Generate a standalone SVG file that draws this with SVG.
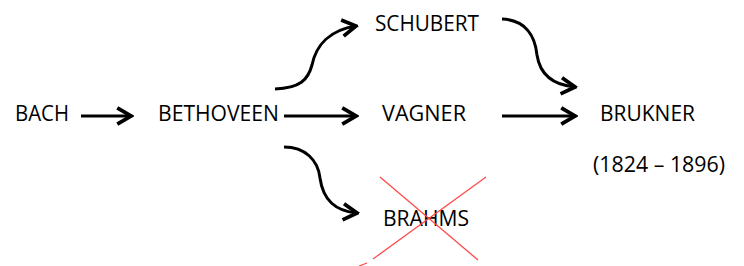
<svg xmlns="http://www.w3.org/2000/svg" width="744" height="266" viewBox="0 0 744 266">
<defs>
<style>
.t{font-family:"Open Sans","Noto Sans",sans-serif;font-size:21px;fill:#000}
.c{fill:none;stroke:#000;stroke-width:3}
.x{stroke:#ff4a4a;stroke-width:1.3;fill:none}
</style>
<marker id="ah" markerUnits="userSpaceOnUse" markerWidth="20" markerHeight="20" viewBox="-14 -8 16 16" refX="0" refY="0" orient="auto">
<path d="M-11,-6.5 L0,0 L-11,6.5" fill="none" stroke="#000" stroke-width="3" stroke-linejoin="miter"/>
</marker>
</defs>
<rect width="744" height="266" fill="#fff"/>
<g id="bach"><text class="t" x="15" y="121" textLength="54" lengthAdjust="spacingAndGlyphs">BACH</text></g>
<g id="bethoveen"><text class="t" x="158" y="121" textLength="121" lengthAdjust="spacingAndGlyphs">BETHOVEEN</text></g>
<g id="schubert"><text class="t" x="375" y="31" textLength="104" lengthAdjust="spacingAndGlyphs">SCHUBERT</text></g>
<g id="vagner"><text class="t" x="382" y="121" textLength="84" lengthAdjust="spacingAndGlyphs">VAGNER</text></g>
<g id="brukner"><text class="t" x="600" y="121" textLength="95" lengthAdjust="spacingAndGlyphs">BRUKNER</text>
<text class="t" x="593" y="172" textLength="132" lengthAdjust="spacingAndGlyphs">(1824 – 1896)</text></g>
<g id="brahms"><text class="t" x="383" y="226" textLength="86" lengthAdjust="spacingAndGlyphs">BRAHMS</text>
<line class="x" x1="380" y1="177" x2="478" y2="260"/>
<line class="x" x1="486" y1="177" x2="373" y2="259"/>
<line class="x" x1="367" y1="263" x2="359" y2="266"/></g>
<g id="connectors">
<path class="c" d="M81,116 L131,116" marker-end="url(#ah)"/>
<path class="c" d="M284,116 L356,116" marker-end="url(#ah)"/>
<path class="c" d="M502,116 L575,116" marker-end="url(#ah)"/>
<path class="c" d="M275,89 C300,88 308,80 312,65 C316,45 330,30 356,26" marker-end="url(#ah)"/>
<path class="c" d="M502,19 C525,20 535,35 537,55 C540,75 553,85 575,87" marker-end="url(#ah)"/>
<path class="c" d="M284,147 C305,147 318,160 320,178 C323,200 335,211 357,213" marker-end="url(#ah)"/>
</g>
</svg>
